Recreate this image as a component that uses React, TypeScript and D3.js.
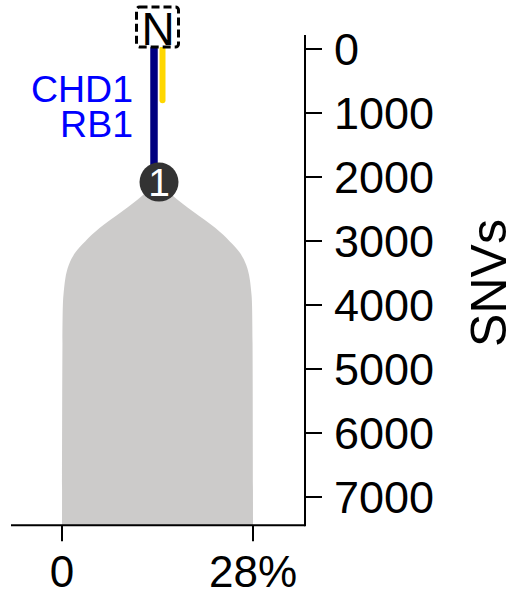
import React from "react";
import * as d3 from "d3";

// ---- data ----
const yTickValues = [0, 1000, 2000, 3000, 4000, 5000, 6000, 7000];
const xTickValues = [0, 28];
const xTickLabels = ["0", "28%"];
const axisTopSNV = -220;
const axisBottomSNV = 7440;

// clone 1 profile (depth in SNVs, width in % prevalence)
const cloneDepth = [2080, 2281, 2542, 2802, 3011, 3167, 3375, 3578, 3844, 4078, 7440];
const cloneWidth = [1.2, 3.7, 10.5, 17.4, 21.3, 24.2, 26.2, 27.1, 27.6, 27.9, 28];
const cloneMax = 28;

// trunk branch from normal (N) to clone 1
const trunkStart = 0;
const trunkEnd = 2080;
const sideBranchEnd = 800;
const driverGenes = ["CHD1", "RB1"];
const nodeLabel = "1";
const rootLabel = "N";

const W = 527;
const H = 597;
const FONT = "Liberation Sans, Arial, Helvetica, sans-serif";

export default function App() {
  const y = d3.scaleLinear().domain([0, 7000]).range([49, 497]);
  const x = d3.scaleLinear().domain([0, 28]).range([62, 253]);
  const cx = x(cloneMax / 2);
  const axisX = 305;
  const baseY = y(axisBottomSNV);

  const profile = cloneDepth.map((d, i) => ({ d, w: cloneWidth[i] }));
  const area = d3
    .area<{ d: number; w: number }>()
    .y((p) => y(p.d))
    .x0((p) => x(cloneMax / 2 - p.w / 2))
    .x1((p) => x(cloneMax / 2 + p.w / 2))
    .curve(d3.curveBasis);

  const nodeY = y(trunkEnd);
  const labelMid = (y(trunkStart) + y(trunkEnd)) / 2 - 9;

  return (
    <svg
      width={W}
      height={H}
      style={{ position: "absolute", left: 0, top: 0, background: "#fff" }}
      fontFamily={FONT}
    >
      {/* clone area */}
      <path d={area(profile) || ""} fill="#cccbca" />

      {/* trunk branches */}
      <line
        x1={cx - 3.5}
        x2={cx - 3.5}
        y1={y(trunkStart)}
        y2={nodeY}
        stroke="#000080"
        strokeWidth={7.5}
        strokeLinecap="round"
      />
      <line
        x1={cx + 5}
        x2={cx + 5}
        y1={y(trunkStart)}
        y2={y(sideBranchEnd)}
        stroke="#ffd700"
        strokeWidth={6}
        strokeLinecap="round"
      />

      {/* driver gene labels */}
      {driverGenes.map((g, i) => (
        <text
          key={g}
          x={133}
          y={labelMid + (i - (driverGenes.length - 1) / 2) * 35 + 13}
          textAnchor="end"
          fontSize={37.5}
          fill="#0000ff"
        >
          {g}
        </text>
      ))}

      {/* root box */}
      <rect
        x={cx - 21}
        y={7}
        width={42}
        height={40}
        fill="#fff"
        stroke="#000"
        strokeWidth={3}
        strokeDasharray="8,4"
        rx={3}
      />
      <text x={cx + 0.5} y={45} textAnchor="middle" fontSize={46} fill="#000">
        {rootLabel}
      </text>

      {/* clone node */}
      <circle cx={cx + 1.5} cy={nodeY} r={19.5} fill="#333333" />
      <text
        x={cx + 1.5}
        y={nodeY + 14}
        textAnchor="middle"
        fontSize={39}
        fill="#fff"
      >
        {nodeLabel}
      </text>

      {/* y axis */}
      <line x1={axisX} x2={axisX} y1={y(axisTopSNV)} y2={baseY + 1} stroke="#000" strokeWidth={2} />
      {yTickValues.map((t) => (
        <g key={t}>
          <line x1={axisX} x2={axisX + 17} y1={y(t)} y2={y(t)} stroke="#000" strokeWidth={2} />
          <text x={334} y={y(t) + 16} fontSize={45} fill="#000">
            {t}
          </text>
        </g>
      ))}
      <text
        transform={`translate(506,283) rotate(-90)`}
        textAnchor="middle"
        fontSize={50}
        fill="#000"
      >
        SNVs
      </text>

      {/* x axis */}
      <line x1={11} x2={axisX} y1={baseY} y2={baseY} stroke="#000" strokeWidth={2} />
      {xTickValues.map((t, i) => (
        <g key={t}>
          <line x1={x(t)} x2={x(t)} y1={baseY} y2={baseY + 16} stroke="#000" strokeWidth={2} />
          <text x={x(t)} y={587} textAnchor="middle" fontSize={44} fill="#000">
            {xTickLabels[i]}
          </text>
        </g>
      ))}
    </svg>
  );
}
